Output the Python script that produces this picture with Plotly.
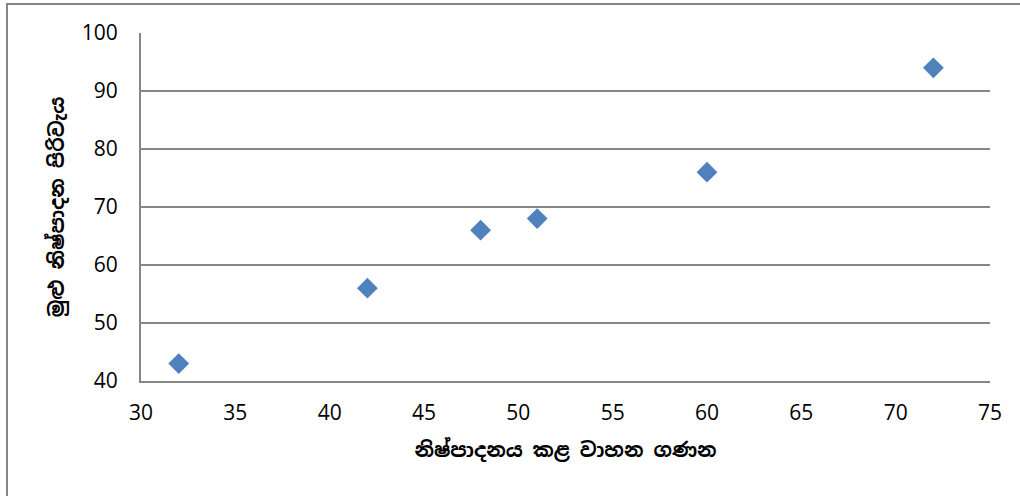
import plotly.graph_objects as go

# Vehicles produced vs total production cost
vehicles = [32, 42, 48, 51, 60, 72]
total_cost = [43, 56, 66, 68, 76, 94]

x_title = "නිෂ්පාදනය කළ වාහන ගණන"
y_title = "මුළු නිෂ්පාදන පිරිවැය"

W, H = 1020, 496
L, R, T, B = 141, 30, 33, 115
pw, ph = W - L - R, H - T - B

fig = go.Figure(
    go.Scatter(
        x=vehicles,
        y=total_cost,
        mode="markers",
        marker=dict(symbol="diamond", size=16, color="#4F81BD"),
        hoverinfo="x+y",
    )
)

tick_font = dict(family="Open Sans, Liberation Sans, sans-serif", size=21, color="#000000")
title_font = dict(family="Noto Sans Sinhala, Iskoola Pota, Noto Sans, sans-serif", size=20, color="#000000")

fig.update_layout(
    width=W,
    height=H,
    margin=dict(l=L, r=R, t=T, b=B),
    paper_bgcolor="white",
    plot_bgcolor="white",
    showlegend=False,
    xaxis=dict(
        range=[30, 75],
        tick0=30,
        dtick=5,
        showgrid=False,
        zeroline=False,
        showline=True,
        linecolor="#868686",
        linewidth=2,
        ticks="",
        tickfont=tick_font,
        ticklabelstandoff=12,
        title=dict(text=f"<b>{x_title}</b>", font=title_font, standoff=18),
    ),
    yaxis=dict(
        range=[40, 100],
        tick0=40,
        dtick=10,
        showgrid=True,
        gridcolor="#868686",
        gridwidth=1.5,
        zeroline=False,
        showline=True,
        linecolor="#868686",
        linewidth=2,
        ticks="",
        tickfont=tick_font,
        ticklabelstandoff=17,
        title=dict(text=f"<b>{y_title}</b>", font=title_font, standoff=12),
    ),
    shapes=[
        dict(
            type="rect",
            xref="paper",
            yref="paper",
            x0=(7 - L) / pw,
            x1=(W + 10 - L) / pw,
            y0=-(H + 10 - T - ph) / ph,
            y1=1 + (T - 4) / ph,
            line=dict(color="#868686", width=2),
            fillcolor="rgba(0,0,0,0)",
            layer="below",
        )
    ],
)

fig.write_html("out.html")
